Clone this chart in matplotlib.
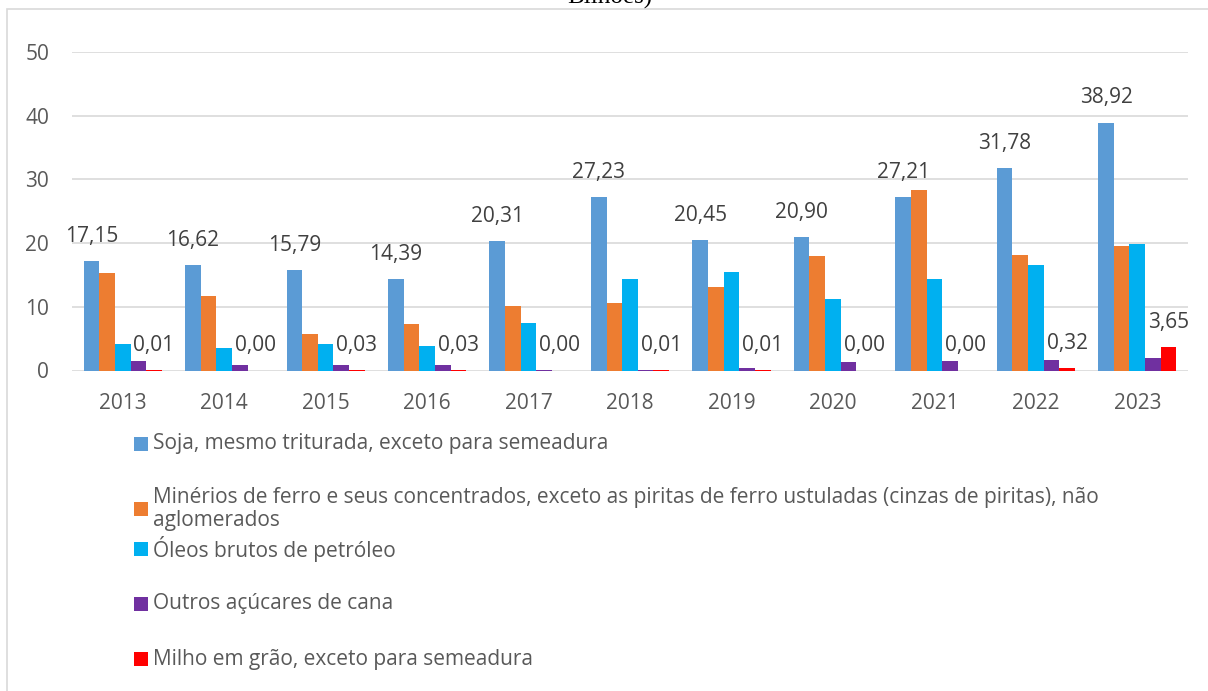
import numpy as np
import matplotlib.pyplot as plt
from matplotlib.patches import Rectangle

plt.rcParams['font.family'] = ['Open Sans', 'DejaVu Sans']

# Data (bilhões)
years = ['2013', '2014', '2015', '2016', '2017', '2018', '2019', '2020', '2021', '2022', '2023']
soja = [17.15, 16.62, 15.79, 14.39, 20.31, 27.23, 20.45, 20.90, 27.21, 31.78, 38.92]
minerios = [15.26, 11.74, 5.73, 7.25, 10.2, 10.6, 13.1, 18.0, 28.3, 18.1, 19.6]
oleos = [4.1, 3.5, 4.2, 3.9, 7.4, 14.4, 15.5, 11.3, 14.3, 16.5, 19.8]
acucares = [1.44, 0.9, 0.8, 0.85, 0.05, 0.15, 0.45, 1.3, 1.45, 1.7, 1.9]
milho = [0.01, 0.00, 0.03, 0.03, 0.00, 0.01, 0.01, 0.00, 0.00, 0.32, 3.65]

series_names = [
    'Soja, mesmo triturada, exceto para semeadura',
    'Minérios de ferro e seus concentrados, exceto as piritas de ferro ustuladas (cinzas de piritas), não\naglomerados',
    'Óleos brutos de petróleo',
    'Outros açúcares de cana',
    'Milho em grão, exceto para semeadura',
]
series = [soja, minerios, oleos, acucares, milho]
colors = ['#5B9BD5', '#ED7D31', '#00B0F0', '#7030A0', '#FF0000']
labelled = [True, False, False, False, True]

W, H = 1208, 691
fig = plt.figure(figsize=(W / 100, H / 100), dpi=100)
ax = fig.add_axes([72 / W, 1 - 370.5 / H, (1188 - 72) / W, (370.5 - 52) / H])

x = np.arange(len(years))
bw = 0.154
for i, (vals, col) in enumerate(zip(series, colors)):
    pos = x + (i - 2) * bw
    ax.bar(pos, vals, width=bw, color=col, linewidth=0, zorder=3)
    if labelled[i]:
        for px, v in zip(pos, vals):
            ax.annotate(f"{v:.2f}".replace('.', ','), (px, v), xytext=(0, 17.7),
                        textcoords='offset points', ha='center', va='center',
                        fontsize=15, color='#404040', zorder=4)

ax.set_xlim(-0.5, len(years) - 0.5)
ax.set_ylim(0, 50)
ax.set_yticks(range(0, 51, 10))
ax.set_xticks(x)
ax.set_xticklabels(years)
ax.tick_params(axis='both', length=0, labelsize=15, labelcolor='#595959')
ax.tick_params(axis='y', pad=16.5)
ax.tick_params(axis='x', pad=16.5)
ax.yaxis.grid(True, color='#d9d9d9', linewidth=1.2, zorder=0)
for s in ax.spines.values():
    s.set_visible(False)

# chart frame (partially cropped in the reference)
fig.patches.append(Rectangle((7 / W, -0.1), 1.2, 1.1 - 9 / H, transform=fig.transFigure,
                             fill=False, edgecolor='#d9d9d9', linewidth=1.2))

# cut-off title
fig.text(609.5 / W, 1 - 4 / H, 'Bilhões)', ha='center', va='baseline',
         fontsize=18, family='Liberation Serif', color='black')

# legend, laid out like the original
leg_y = [444, 509, 549, 604, 659]
for name, col, yc in zip(series_names, colors, leg_y):
    fig.patches.append(Rectangle((134 / W, 1 - (yc + 7) / H), 14 / W, 14 / H,
                                 transform=fig.transFigure, color=col, linewidth=0))
    fig.text(153 / W, 1 - yc / H, name, ha='left', va='center', fontsize=15,
             color='#595959', linespacing=1.15)

fig.savefig('out.png', dpi=100)
